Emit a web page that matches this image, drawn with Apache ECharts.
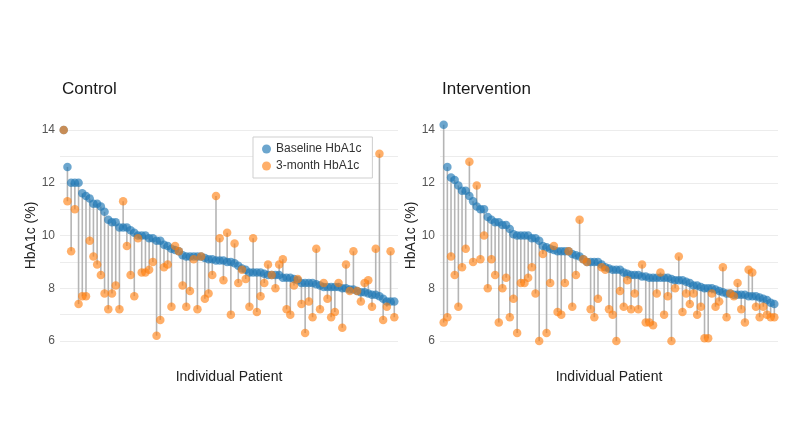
<!DOCTYPE html>
<html>
<head>
<meta charset="utf-8">
<script src="https://cdn.jsdelivr.net/npm/echarts@6/dist/echarts.min.js"></script>
<style>
html,body{margin:0;padding:0;background:#fff;}
#chart{width:800px;height:445px;}
</style>
</head>
<body>
<div id="chart"></div>
<script>
// ---- Data ----
const panelTitles = ['Control', 'Intervention'];
const seriesNames = ['Baseline HbA1c', '3-month HbA1c'];
const yTickValues = [6, 8, 10, 12, 14];

const ctrlBaseline = [14.0,12.6,12.0,12.0,12.0,11.6,11.5,11.4,11.2,11.2,11.1,10.9,10.6,10.5,10.5,10.3,10.3,10.3,10.2,10.1,
  10.0,10.0,10.0,9.9,9.9,9.8,9.8,9.65,9.6,9.5,9.45,9.4,9.25,9.2,9.2,9.2,9.2,9.2,9.15,9.1,
  9.1,9.05,9.05,9.05,9.0,9.0,8.95,8.85,8.75,8.7,8.6,8.6,8.6,8.6,8.55,8.5,8.5,8.5,8.5,8.4,
  8.4,8.4,8.35,8.3,8.2,8.2,8.2,8.2,8.15,8.1,8.05,8.05,8.05,8.05,8.05,8.0,8.0,7.95,7.95,7.9,
  7.85,7.85,7.8,7.75,7.75,7.7,7.6,7.5,7.5,7.5];
const ctrlMonth3 = [14.0,11.3,9.4,11.0,7.4,7.7,7.7,9.8,9.2,8.9,8.5,7.8,7.2,7.8,8.1,7.2,11.3,9.6,8.5,7.7,
  9.9,8.6,8.6,8.7,9.0,6.2,6.8,8.8,8.9,7.3,9.6,9.4,8.1,7.3,7.9,9.1,7.2,9.2,7.6,7.8,
  8.5,11.5,9.9,8.3,10.1,7.0,9.7,8.2,8.7,8.35,7.3,9.9,7.1,7.7,8.2,8.9,8.5,8.0,8.9,9.1,
  7.2,7.0,8.1,8.35,7.4,6.3,7.5,6.9,9.5,7.2,8.2,7.6,6.9,7.1,8.2,6.5,8.9,7.9,9.4,7.9,
  7.5,8.2,8.3,7.3,9.5,13.1,6.8,7.3,9.4,6.9];

const intBaseline = [14.2,12.6,12.2,12.1,11.9,11.7,11.7,11.5,11.3,11.1,11.0,11.0,10.7,10.6,10.5,10.5,10.4,10.4,10.25,10.05,
  10.0,10.0,10.0,10.0,9.9,9.9,9.8,9.6,9.55,9.5,9.45,9.4,9.4,9.4,9.4,9.3,9.25,9.2,9.1,9.0,
  9.0,9.0,9.0,8.9,8.8,8.75,8.7,8.7,8.7,8.6,8.55,8.5,8.5,8.5,8.45,8.45,8.4,8.4,8.4,8.4,
  8.4,8.4,8.35,8.3,8.3,8.3,8.25,8.2,8.1,8.1,8.05,8.0,8.0,8.0,7.95,7.9,7.85,7.8,7.8,7.75,
  7.75,7.75,7.75,7.7,7.7,7.7,7.65,7.6,7.55,7.45,7.4];
const intMonth3 = [6.7,6.9,9.2,8.5,7.3,8.8,9.5,12.8,9.0,11.9,9.1,10.0,8.0,9.1,8.5,6.7,8.0,8.4,6.9,7.6,
  6.3,8.2,8.2,8.4,8.8,7.8,6.0,9.3,6.3,8.2,9.6,7.1,7.0,8.2,9.4,7.3,8.5,10.6,9.1,9.0,
  7.2,6.9,7.6,8.8,8.7,7.2,7.0,6.0,7.9,7.3,8.3,7.2,7.8,7.2,8.9,6.7,6.7,6.6,7.8,8.6,
  7.0,7.7,6.0,8.0,9.2,7.1,7.8,7.4,7.8,7.0,7.3,6.1,6.1,7.8,7.3,7.5,8.8,6.9,7.8,7.7,
  8.2,7.2,6.7,8.7,8.6,7.3,6.9,7.3,7.0,6.9,6.9];

// ---- Build chart ----
const FONT = '"Liberation Sans", Arial, Helvetica, sans-serif';
const BLUE = 'rgba(31,119,180,0.82)';
const ORANGE = 'rgba(255,127,14,0.78)';

const panels = [
  {base: ctrlBaseline, m3: ctrlMonth3, left: 60},
  {base: intBaseline, m3: intMonth3, left: 440}
];

const grids = [], xAxes = [], yAxes = [], series = [], titles = [];
panels.forEach((p, i) => {
  const n = p.base.length;
  grids.push({left: p.left, top: 130, width: 338, height: 211});
  titles.push({text: panelTitles[i], left: p.left + 2, top: 81, padding: 0,
    textStyle: {fontFamily: FONT, fontSize: 17, fontWeight: 'normal', color: '#1a1a1a'}});
  xAxes.push({type: 'value', gridIndex: i, min: 0, max: n + 1,
    name: 'Individual Patient', nameLocation: 'middle', nameGap: 29,
    nameTextStyle: {fontFamily: FONT, fontSize: 14, color: '#222'},
    axisLine: {show: false}, axisTick: {show: false}, axisLabel: {show: false},
    splitLine: {show: false}});
  yAxes.push({type: 'value', gridIndex: i, min: 6, max: 14, interval: 1,
    name: 'HbA1c (%)', nameLocation: 'middle', nameGap: 18,
    nameTextStyle: {fontFamily: FONT, fontSize: 14, color: '#222'},
    axisLine: {show: false}, axisTick: {show: false},
    axisLabel: {fontFamily: FONT, fontSize: 12, color: '#555', margin: 5,
      formatter: v => yTickValues.includes(v) ? String(v) : ''},
    splitLine: {lineStyle: {color: '#ececec', width: 1}}});
  const segData = p.base.map((b, k) => [k + 1, b, p.m3[k]]);
  series.push({type: 'custom', xAxisIndex: i, yAxisIndex: i, data: segData,
    encode: {x: 0, y: [1, 2]}, silent: true, z: 1,
    renderItem: (params, api) => {
      const a = api.coord([api.value(0), api.value(1)]);
      const b = api.coord([api.value(0), api.value(2)]);
      return {type: 'line', shape: {x1: a[0], y1: a[1], x2: b[0], y2: b[1]},
        style: {stroke: '#b5b5b5', lineWidth: 1.6}};
    }});
  series.push({type: 'scatter', name: seriesNames[0], xAxisIndex: i, yAxisIndex: i,
    data: p.base.map((b, k) => [k + 1, b]), symbolSize: 8.5, clip: false, z: 2,
    itemStyle: {color: BLUE}});
  series.push({type: 'scatter', name: seriesNames[1], xAxisIndex: i, yAxisIndex: i,
    data: p.m3.map((v, k) => [k + 1, v]), symbolSize: 8.5, clip: false, z: 3,
    itemStyle: {color: ORANGE}});
});

const chart = echarts.init(document.getElementById('chart'), null, {renderer: 'canvas'});
chart.setOption({
  animation: false,
  backgroundColor: '#fff',
  textStyle: {fontFamily: FONT},
  title: titles,
  legend: {data: seriesNames, orient: 'vertical', left: 253, top: 137,
    backgroundColor: '#fff', borderColor: '#cfcfcf', borderWidth: 1, borderRadius: 0,
    padding: [6, 11, 6, 9], itemGap: 5, icon: 'circle', itemWidth: 9, itemHeight: 9,
    textStyle: {fontFamily: FONT, fontSize: 12, color: '#333'}},
  grid: grids,
  xAxis: xAxes,
  yAxis: yAxes,
  series: series
});
</script>
</body>
</html>
